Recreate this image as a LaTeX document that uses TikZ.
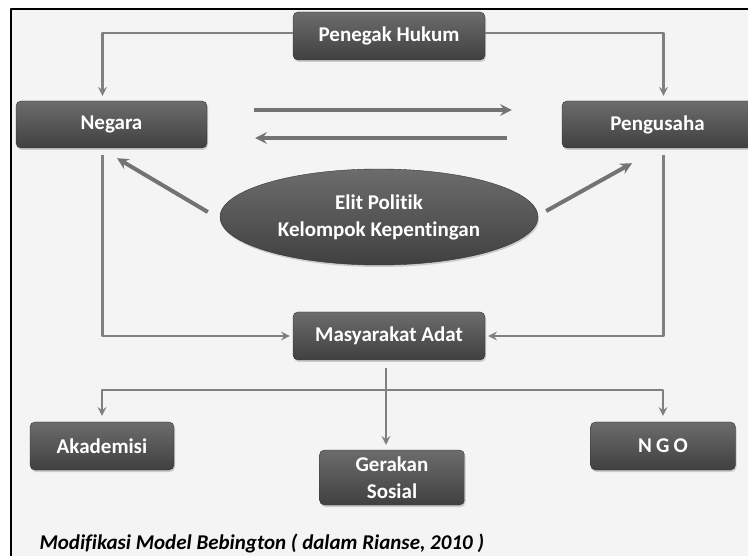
\documentclass[tikz,border=0pt]{standalone}
\usepackage{fontspec}
\setmainfont[Ligatures=NoCommon]{Carlito}
\usetikzlibrary{shapes.geometric,shadows}
\definecolor{boxtop}{RGB}{108,108,108}
\definecolor{boxbot}{RGB}{64,64,64}
\definecolor{linegray}{RGB}{128,128,128}
\definecolor{paper}{RGB}{244,244,244}
\begin{document}
\begin{tikzpicture}[x=1pt,y=-1pt,line join=round,>=stealth,
		box/.style={rectangle,rounded corners=5pt,top color=boxtop,bottom color=boxbot,draw=boxbot!80!black,
			text=white,font=\fontsize{21}{27}\selectfont\bfseries,align=center,inner sep=0pt,
			drop shadow={shadow xshift=1pt,shadow yshift=-2pt,opacity=0.35}},
		conn/.style={draw=linegray,line width=2.8pt},
		bigarrow/.style={draw=linegray!90!black,line width=4pt}]
			\useasboundingbox (0,0) rectangle (748,556);
			\fill[paper] (11,9) rectangle (748,556);
			\draw[line width=2.5pt] (11,556) -- (11,9) -- (748,9);
			
			\node[box,minimum width=192pt,minimum height=48pt] (hukum) at (389,36) {Penegak Hukum};
			\node[box,minimum width=191pt,minimum height=47pt] (negara) at (111.5,124.5) {Negara};
			\node[box,minimum width=191pt,minimum height=47pt] (pengusaha) at (657.5,124.5) {Pengusaha};
			\node[box,ellipse,minimum width=318pt,minimum height=96pt] (elit) at (379,217) {Elit Politik\\Kelompok Kepentingan};
			\node[box,minimum width=192pt,minimum height=48pt] (masy) at (389,336) {Masyarakat Adat};
			\node[box,minimum width=144pt,minimum height=48pt] (akad) at (102,446) {Akademisi};
			\node[box,minimum width=145pt,minimum height=55pt] (gerakan) at (392,477.5) {Gerakan\\Sosial};
			\node[box,minimum width=145pt,minimum height=48pt] (ngo) at (663,446) {\spaceskip=0.2em N G O};
			
			% penegak hukum ke negara dan pengusaha
			\draw[conn,->,shorten >=5pt] ([yshift=3pt]hukum.west) -| ([xshift=-9pt]negara.north);
			\draw[conn,->,shorten >=5pt] ([yshift=3pt]hukum.east) -| ([xshift=6pt]pengusaha.north);
			
			% negara <-> pengusaha
			\draw[bigarrow,->] ([xshift=47pt,yshift=14.5pt]negara.east) -- ([xshift=-50pt,yshift=14.5pt]pengusaha.west);
			\draw[bigarrow,->] ([xshift=-55pt,yshift=-13.5pt]pengusaha.west) -- ([xshift=48pt,yshift=-13.5pt]negara.east);
			
			% elit politik
			\draw[bigarrow,->] ([xshift=-12pt,yshift=5pt]elit.west) -- ([xshift=5.5pt,yshift=-10pt]negara.south);
			\draw[bigarrow,->] ([xshift=8pt,yshift=6pt]elit.east) -- ([xshift=-25.5pt,yshift=-15pt]pengusaha.south);
			
			% ke masyarakat adat
			\draw[conn,->,shorten <=7pt,shorten >=3pt] ([xshift=-9pt]negara.south) |- (masy.west);
			\draw[conn,->,shorten <=7pt,shorten >=3pt] ([xshift=6pt]pengusaha.south) |- (masy.east);
			
			% dari masyarakat adat
			\coordinate (fork) at (386,390);
			\draw[conn,->,shorten <=8pt,shorten >=5pt] ([xshift=-3pt]masy.south) -- ([xshift=-3pt]masy.south |- gerakan.north);
			\draw[conn,->,shorten >=6pt] (fork) -| (akad.north);
			\draw[conn,->,shorten >=6pt] (fork) -| (ngo.north);
			
			\node[anchor=west,font=\fontsize{21}{25}\selectfont\bfseries\itshape] (sumber) at (36,543) {Modifikasi Model Bebington ( dalam Rianse, 2010 )};
		\end{tikzpicture}
\end{document}
